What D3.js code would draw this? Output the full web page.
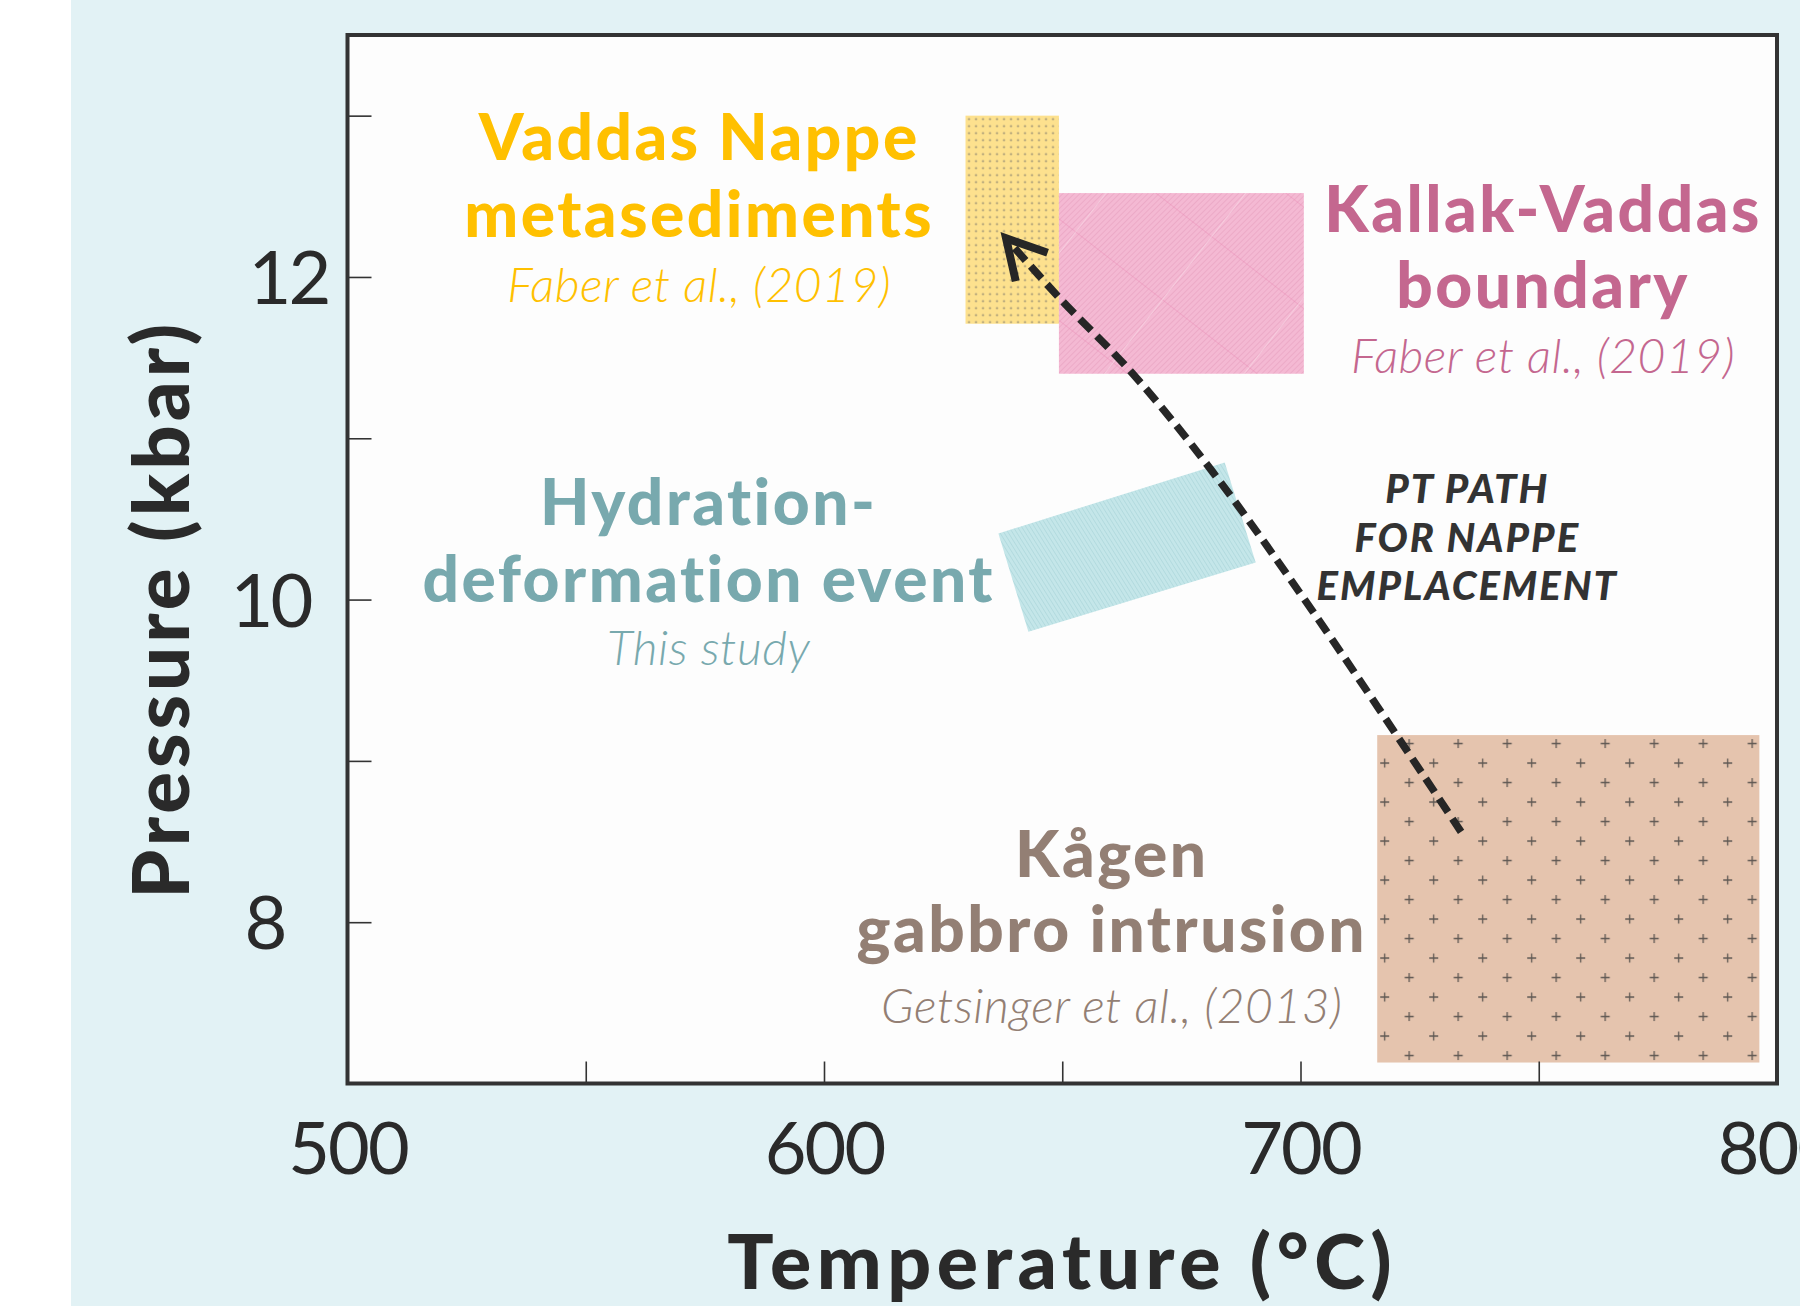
<!DOCTYPE html>
<html>
<head>
<meta charset="utf-8">
<script src="https://cdn.jsdelivr.net/npm/d3@7"></script>
<style>
  html, body { margin: 0; padding: 0; background: #ffffff; }
  svg { display: block; }
  text { font-family: Lato, "Open Sans", sans-serif; }
</style>
</head>
<body>
<div id="c1"></div>
<script>
// Axis ticks and labels
var tempTicks = [550, 600, 650, 700, 750];
var tempLabels = [500, 600, 700, 800];
var pressTicks = [8, 9, 10, 11, 12, 13];
var pressLabels = [8, 10, 12];

// PT fields (temperature in C, pressure in kbar)
var vaddasT = [629.7, 649.3];
var vaddasP = [11.71, 13.0];
var kallakT = [649.3, 700.7];
var kallakP = [11.40, 12.52];
var kagenT = [716.1, 796.3];
var kagenP = [7.13, 9.16];
var hydrationCorners = [[636.6, 10.41], [684.1, 10.85], [690.6, 10.23], [642.9, 9.80]];

// PT path for nappe emplacement, start -> end
var ptPath = [[733.7, 8.56], [702.5, 9.93], [681.6, 10.79], [664.8, 11.40], [649.4, 11.87], [638.2, 12.24]];

// Annotation texts
var vaddasText = ["Vaddas Nappe", "metasediments", "Faber et al., (2019)"];
var kallakText = ["Kallak-Vaddas", "boundary", "Faber et al., (2019)"];
var hydrationText = ["Hydration-", "deformation event", "This study"];
var kagenText = ["Kågen", "gabbro intrusion", "Getsinger et al., (2013)"];
var pathText = ["PT PATH", "FOR NAPPE", "EMPLACEMENT"];

var W = 1800, H = 1306;
var box = {left: 347.5, right: 1777, top: 35, bottom: 1083.5};

var svg = d3.select("#c1").append("svg")
    .attr("width", W)
    .attr("height", H);

var x = d3.scaleLinear().domain([500, 800]).range([box.left, box.right]);
var y = d3.scaleLinear().domain([7, 13.5]).range([box.bottom, box.top]);

// Backgrounds
svg.append("rect").attr("x", 0).attr("y", 0).attr("width", W).attr("height", H).attr("fill", "#ffffff");
svg.append("rect").attr("x", 71).attr("y", 0).attr("width", W - 71).attr("height", H).attr("fill", "#e2f2f5");
svg.append("rect")
    .attr("x", box.left).attr("y", box.top)
    .attr("width", box.right - box.left).attr("height", box.bottom - box.top)
    .attr("fill", "#fdfdfd");

// Patterns
var defs = svg.append("defs");

var pDots = defs.append("pattern").attr("id", "dots")
    .attr("patternUnits", "userSpaceOnUse")
    .attr("x", x(vaddasT[0])).attr("y", y(vaddasP[1]))
    .attr("width", 7).attr("height", 7);
pDots.append("rect").attr("width", 7).attr("height", 7).attr("fill", "#fde18e");
pDots.append("circle").attr("cx", 3.5).attr("cy", 3.5).attr("r", 0.9).attr("fill", "#8a8370");

var pPink = defs.append("pattern").attr("id", "pinkStripes")
    .attr("patternUnits", "userSpaceOnUse")
    .attr("width", 4).attr("height", 4)
    .attr("patternTransform", "rotate(45)");
pPink.append("rect").attr("width", 4).attr("height", 4).attr("fill", "#f4b9d3");
pPink.append("line").attr("x1", 0).attr("y1", 0).attr("x2", 0).attr("y2", 4)
    .attr("stroke", "#e8a2c1").attr("stroke-width", 1.3);

var pPinkGrid = defs.append("pattern").attr("id", "pinkGrid")
    .attr("patternUnits", "userSpaceOnUse")
    .attr("width", 110).attr("height", 80)
    .attr("patternTransform", "rotate(38)");
pPinkGrid.append("line").attr("x1", 0).attr("y1", 0).attr("x2", 110).attr("y2", 0)
    .attr("stroke", "#e986b1").attr("stroke-width", 0.9).attr("opacity", 0.8);
pPinkGrid.append("line").attr("x1", 0).attr("y1", 0).attr("x2", 0).attr("y2", 80)
    .attr("stroke", "#f8d8e6").attr("stroke-width", 1.5).attr("opacity", 0.8);

var pTeal = defs.append("pattern").attr("id", "tealStripes")
    .attr("patternUnits", "userSpaceOnUse")
    .attr("width", 3.6).attr("height", 3.6)
    .attr("patternTransform", "rotate(-32)");
pTeal.append("rect").attr("width", 3.6).attr("height", 3.6).attr("fill", "#c4e6e9");
pTeal.append("line").attr("x1", 0).attr("y1", 0).attr("x2", 0).attr("y2", 3.6)
    .attr("stroke", "#a6d3d8").attr("stroke-width", 1.1);

var plusW = 49, plusH = 39;
var pPlus = defs.append("pattern").attr("id", "plus")
    .attr("patternUnits", "userSpaceOnUse")
    .attr("x", x(kagenT[0])).attr("y", y(kagenP[1]))
    .attr("width", plusW).attr("height", plusH);
pPlus.append("rect").attr("width", plusW).attr("height", plusH).attr("fill", "#e5c4ae");
[[32, 8.5], [7.5, 28]].forEach(function (c) {
    pPlus.append("path")
        .attr("d", "M" + (c[0] - 4.5) + "," + c[1] + "h9M" + c[0] + "," + (c[1] - 4.5) + "v9")
        .attr("stroke", "#5f5853").attr("stroke-width", 1.3).attr("fill", "none");
});

// Fields
svg.append("rect")
    .attr("x", x(vaddasT[0])).attr("y", y(vaddasP[1]))
    .attr("width", x(vaddasT[1]) - x(vaddasT[0]))
    .attr("height", y(vaddasP[0]) - y(vaddasP[1]))
    .attr("fill", "url(#dots)");

["pinkStripes", "pinkGrid"].forEach(function (p) {
    svg.append("rect")
        .attr("x", x(kallakT[0])).attr("y", y(kallakP[1]))
        .attr("width", x(kallakT[1]) - x(kallakT[0]))
        .attr("height", y(kallakP[0]) - y(kallakP[1]))
        .attr("fill", "url(#" + p + ")");
});

svg.append("path")
    .datum(hydrationCorners)
    .attr("d", function (d) {
        return "M" + d.map(function (c) { return x(c[0]) + "," + y(c[1]); }).join("L") + "Z";
    })
    .attr("fill", "url(#tealStripes)");

svg.append("rect")
    .attr("x", x(kagenT[0])).attr("y", y(kagenP[1]))
    .attr("width", x(kagenT[1]) - x(kagenT[0]))
    .attr("height", y(kagenP[0]) - y(kagenP[1]))
    .attr("fill", "url(#plus)");

// Axes: inward ticks
var xAxis = svg.append("g")
    .attr("transform", "translate(0," + box.bottom + ")")
    .call(d3.axisTop(x).tickValues(tempTicks).tickSize(22).tickFormat(""));
xAxis.select(".domain").remove();
xAxis.selectAll("line").attr("stroke", "#333").attr("stroke-width", 1.6);

var yAxis = svg.append("g")
    .attr("transform", "translate(" + box.left + ",0)")
    .call(d3.axisRight(y).tickValues(pressTicks).tickSize(24).tickFormat(""));
yAxis.select(".domain").remove();
yAxis.selectAll("line").attr("stroke", "#333").attr("stroke-width", 1.6);

// Tick labels
var xLab = svg.append("g")
    .attr("transform", "translate(0," + box.bottom + ")")
    .call(d3.axisBottom(x).tickValues(tempLabels).tickSize(0).tickPadding(0).tickFormat(d3.format("d")));
xLab.select(".domain").remove();
xLab.selectAll("text")
    .attr("y", 90)
    .attr("dy", null)
    .attr("fill", "#2a2a2a")
    .style("font-family", "Lato, sans-serif")
    .style("font-size", "72px")
    .style("letter-spacing", "-2px");

var yNudge = {12: 11, 10: -7, 8: -13};
var yLab = svg.append("g")
    .attr("transform", "translate(" + box.left + ",0)")
    .call(d3.axisLeft(y).tickValues(pressLabels).tickSize(0).tickPadding(0).tickFormat(d3.format("d")));
yLab.select(".domain").remove();
yLab.selectAll("text")
    .attr("text-anchor", "middle")
    .attr("x", function (d) { return -70 + yNudge[d]; })
    .attr("dy", "0.36em")
    .attr("fill", "#2a2a2a")
    .style("font-family", "Lato, sans-serif")
    .style("font-size", "74px")
    .style("letter-spacing", "-3px");

// Frame
svg.append("rect")
    .attr("x", box.left).attr("y", box.top)
    .attr("width", box.right - box.left).attr("height", box.bottom - box.top)
    .attr("fill", "none")
    .attr("stroke", "#333")
    .attr("stroke-width", 4);

// Axis titles
svg.append("text")
    .attr("x", (box.left + box.right) / 2)
    .attr("y", 1289)
    .attr("text-anchor", "middle")
    .attr("fill", "#2a2a2a")
    .style("font-weight", 900)
    .style("font-size", "77px")
    .style("letter-spacing", "5.5px")
    .text("Temperature (°C)");

svg.append("text")
    .attr("transform", "translate(189," + ((box.top + box.bottom) / 2 + 50) + ") rotate(-90)")
    .attr("text-anchor", "middle")
    .attr("fill", "#2a2a2a")
    .style("font-weight", 900)
    .style("font-size", "78px")
    .style("letter-spacing", "4px")
    .text("Pressure (kbar)");

// PT path
var line = d3.line()
    .x(function (d) { return x(d[0]); })
    .y(function (d) { return y(d[1]); })
    .curve(d3.curveCatmullRom);

svg.append("path")
    .datum(ptPath)
    .attr("d", line)
    .attr("fill", "none")
    .attr("stroke", "#262626")
    .attr("stroke-width", 7.5)
    .attr("stroke-dasharray", "16,8");

// Open arrow head at the end of the path
var tip = ptPath[ptPath.length - 1], prev = ptPath[ptPath.length - 2];
var tx = x(tip[0]), ty = y(tip[1]);
var ang = Math.atan2(y(prev[1]) - ty, x(prev[0]) - tx);
var armLen = 44, spread = Math.PI / 6.2;
svg.append("path")
    .attr("d",
        "M" + (tx + armLen * Math.cos(ang - spread)) + "," + (ty + armLen * Math.sin(ang - spread)) +
        "L" + tx + "," + ty +
        "L" + (tx + armLen * Math.cos(ang + spread)) + "," + (ty + armLen * Math.sin(ang + spread)))
    .attr("fill", "none")
    .attr("stroke", "#262626")
    .attr("stroke-width", 8)
    .attr("stroke-linejoin", "miter");

// Annotation blocks
function block(lines, t, p, color, gaps, sizes, styles) {
    var g = svg.append("g").attr("transform", "translate(" + x(t) + "," + y(p) + ")");
    lines.forEach(function (s, i) {
        g.append("text")
            .attr("x", 0)
            .attr("y", gaps[i])
            .attr("text-anchor", "middle")
            .attr("fill", color)
            .style("font-size", sizes[i] + "px")
            .style("font-weight", styles[i].w)
            .style("font-style", styles[i].s)
            .style("letter-spacing", styles[i].ls)
            .text(s);
    });
}

var bold = {w: 900, s: "normal", ls: "2.5px"},
    lightIt = {w: 300, s: "italic", ls: "0.5px"},
    boldIt = {w: 900, s: "italic", ls: "2px"};

block(vaddasText, 573.8, 12.725, "#ffc000", [0, 76.7, 141.7], [64, 64, 48], [bold, bold, lightIt]);
block(kallakText, 750.9, 12.28, "#c4678f", [0, 76.6, 141.6], [64, 64, 48], [bold, bold, lightIt]);
block(hydrationText, 575.8, 10.462, "#78a9ae", [0, 76.7, 140], [64, 64, 48], [bold, bold, lightIt]);
block(kagenText, 660.4, 8.282, "#937f74", [0, 75, 146.6], [64, 64, 48], [bold, bold, lightIt]);
block(pathText, 735.0, 10.597, "#333333", [0, 48.4, 96.7], [40, 40, 40], [boldIt, boldIt, boldIt]);
</script>
</body>
</html>
